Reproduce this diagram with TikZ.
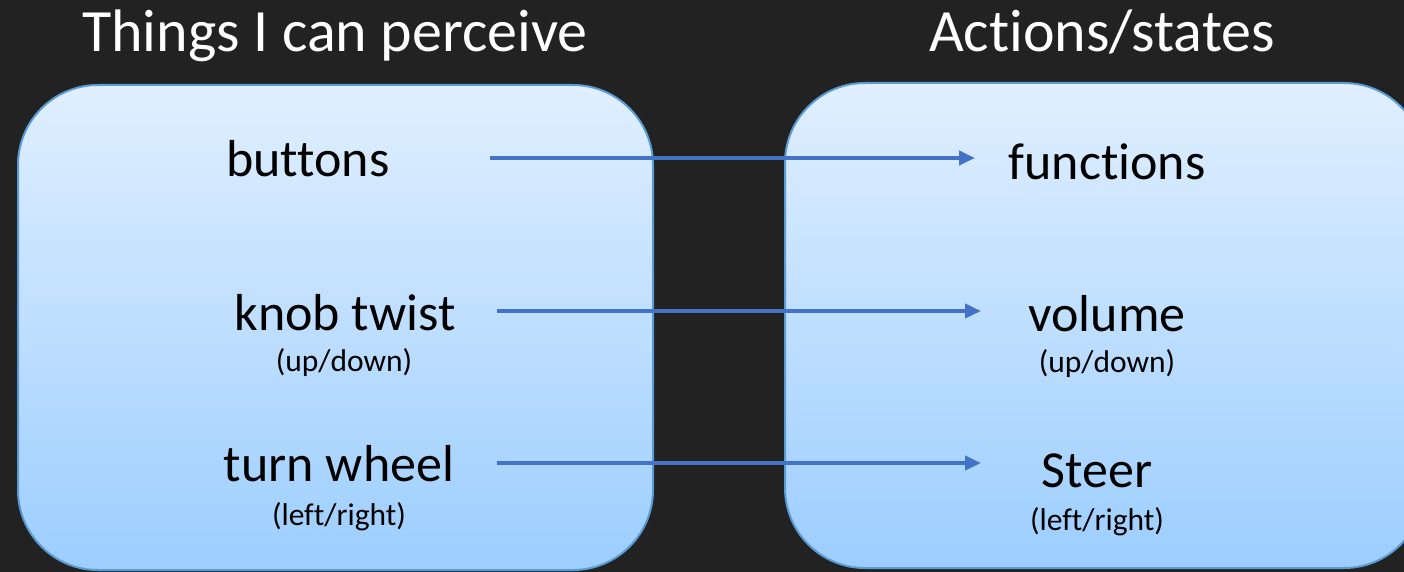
\documentclass[tikz,border=0pt]{standalone}
\usepackage{fontspec}
\setmainfont{Carlito}[Ligatures={NoCommon}]
\usetikzlibrary{arrows.meta}
\definecolor{bgdark}{HTML}{222222}
\definecolor{panelTop}{HTML}{E0EFFF}
\definecolor{panelBot}{HTML}{9CCEFF}
\definecolor{panelEdge}{HTML}{5B9BD5}
\definecolor{linkBlue}{HTML}{4472C4}
\tikzset{
  panel/.style={rounded corners=80pt, draw=panelEdge, line width=2pt,
    top color=panelTop, bottom color=panelBot},
  heading/.style={anchor=base, text=white, font=\fontsize{60}{60}\selectfont, inner sep=0pt},
  item/.style={anchor=base, text=black, font=\fontsize{52}{52}\selectfont, inner sep=0pt},
  hint/.style={anchor=base, text=black, font=\fontsize{31.5}{31.5}\selectfont, inner sep=0pt},
  link/.style={draw=linkBlue, line width=4pt, -{Triangle[length=16pt,width=14pt]}}
}
\begin{document}
\begin{tikzpicture}[x=1pt,y=-1pt]
  \useasboundingbox (0,0) rectangle (1404,572);
  \fill[bgdark] (0,0) rectangle (1404,572);
  \clip (0,0) rectangle (1404,572);

  % the two panels
  \path[panel] (18,85) rectangle (653,570);
  \path[panel] (785,83) rectangle (1424,568);

  % headings
  \node[heading] (hleft) at (335,52) {Things I can perceive};
  \node[heading] (hright) at (1102,52) {Actions/states};

  % perceivable inputs
  \node[item] (buttons) at (308,176) {buttons};
  \node[item] (knob) at (345,330) {knob twist};
  \node[hint] (knobhint) at (344,371) {(up/down)};
  \node[item] (wheel) at (339,481) {turn wheel};
  \node[hint] (wheelhint) at (339,525) {(left/right)};

  % resulting actions
  \node[item] (functions) at (1107,179) {functions};
  \node[item] (volume) at (1107,331) {volume};
  \node[hint] (volumehint) at (1107,372) {(up/down)};
  \node[item] (steer) at (1097,487) {Steer};
  \node[hint] (steerhint) at (1097,530) {(left/right)};

  % arrow end points
  \coordinate (b0) at (490,158);
  \coordinate (b1) at (975,158);
  \coordinate (k0) at (497,311);
  \coordinate (k1) at (981,311);
  \coordinate (w0) at (497,463);
  \coordinate (w1) at (981,463);

  \draw[link] (b0) -- (b1);
  \draw[link] (k0) -- (k1);
  \draw[link] (w0) -- (w1);
\end{tikzpicture}
\end{document}
